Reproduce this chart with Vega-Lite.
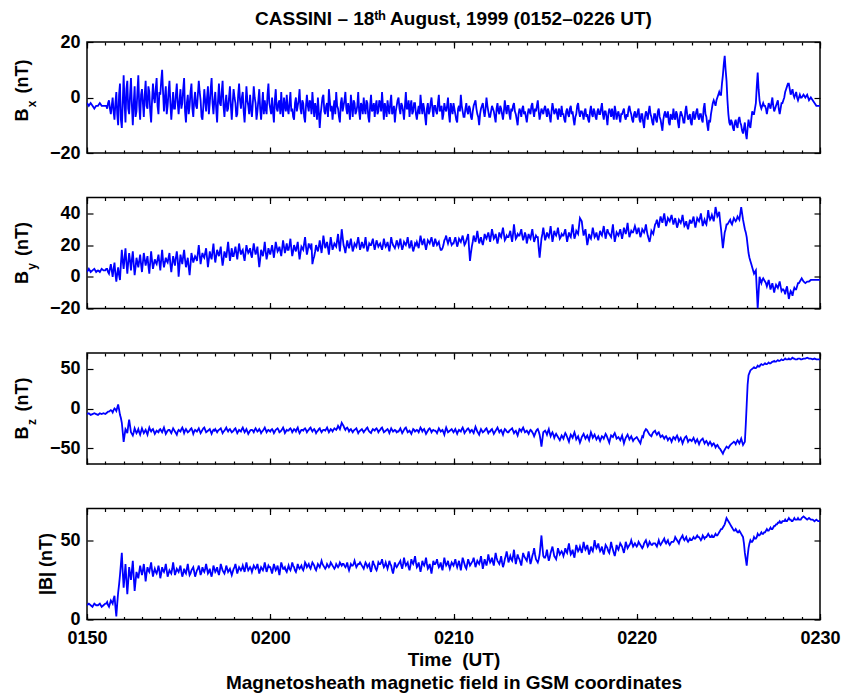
{
"$schema": "https://vega.github.io/schema/vega-lite/v6.json",
"background": "white",
"padding": {"left": 12, "top": 9, "right": 5, "bottom": 5},
"title": {"text": "CASSINI – 18ᵗʰ August, 1999 (0152–0226 UT)", "font": "Liberation Sans", "fontSize": 19, "fontWeight": "bold", "color": "black", "anchor": "middle", "frame": "group", "baseline": "alphabetic", "offset": -11.5},
"bounds": "flush",
"spacing": 44.5,
"datasets": {"mag": [
{"t":0,"bx":-2,"by":3,"bz":-7,"bt":9},{"t":0.1,"bx":-3,"by":5,"bz":-6,"bt":10},{"t":0.2,"bx":-2,"by":3,"bz":-8,"bt":9},{"t":0.3,"bx":-3,"by":4,"bz":-7,"bt":8},{"t":0.4,"bx":-4,"by":5,"bz":-6,"bt":10},{"t":0.5,"bx":-3,"by":3,"bz":-7,"bt":9},{"t":0.6,"bx":-3,"by":4,"bz":-8,"bt":9},{"t":0.7,"bx":-2,"by":3,"bz":-6,"bt":10},{"t":0.8,"bx":-3,"by":5,"bz":-7,"bt":8},{"t":0.9,"bx":-3,"by":4,"bz":-6,"bt":9},
{"t":1,"bx":-3,"by":4,"bz":-7,"bt":10},{"t":1.1,"bx":-4,"by":5,"bz":-5,"bt":11},{"t":1.2,"bx":-1,"by":2,"bz":-4,"bt":8},{"t":1.3,"bx":-6,"by":8,"bz":-2,"bt":12},{"t":1.4,"bx":0,"by":0,"bz":-5,"bt":10},{"t":1.5,"bx":-8,"by":9,"bz":0,"bt":15},{"t":1.6,"bx":2,"by":-3,"bz":-3,"bt":2},{"t":1.7,"bx":-10,"by":6,"bz":5,"bt":17},{"t":1.8,"bx":5,"by":-2,"bz":-8,"bt":28},{"t":1.9,"bx":-11,"by":17,"bz":-18,"bt":42},
{"t":2,"bx":8,"by":5,"bz":-42,"bt":20},{"t":2.1,"bx":-9,"by":18,"bz":-26,"bt":35},{"t":2.2,"bx":6,"by":2,"bz":-31,"bt":16},{"t":2.3,"bx":-6,"by":15,"bz":-14,"bt":33},{"t":2.4,"bx":7,"by":4,"bz":-30,"bt":25},{"t":2.5,"bx":-10,"by":16,"bz":-34,"bt":37},{"t":2.6,"bx":4,"by":1,"bz":-25,"bt":18},{"t":2.7,"bx":-5,"by":12,"bz":-31,"bt":30},{"t":2.8,"bx":8,"by":6,"bz":-26,"bt":26},{"t":2.9,"bx":-8,"by":14,"bz":-33,"bt":34},
{"t":3,"bx":3,"by":3,"bz":-25,"bt":28},{"t":3.1,"bx":-7,"by":15,"bz":-31,"bt":35},{"t":3.2,"bx":6,"by":7,"bz":-27,"bt":24},{"t":3.3,"bx":-4,"by":13,"bz":-33,"bt":33},{"t":3.4,"bx":2,"by":2,"bz":-24,"bt":30},{"t":3.5,"bx":-9,"by":16,"bz":-29,"bt":36},{"t":3.6,"bx":5,"by":5,"bz":-26,"bt":27},{"t":3.7,"bx":-2,"by":11,"bz":-32,"bt":32},{"t":3.8,"bx":7,"by":8,"bz":-28,"bt":29},{"t":3.9,"bx":-6,"by":14,"bz":-30,"bt":34},
{"t":4,"bx":1,"by":4,"bz":-26,"bt":26},{"t":4.1,"bx":10,"by":17,"bz":-30,"bt":33},{"t":4.2,"bx":-5,"by":6,"bz":-24,"bt":30},{"t":4.3,"bx":4,"by":12,"bz":-32,"bt":35},{"t":4.4,"bx":-3,"by":9,"bz":-28,"bt":27},{"t":4.5,"bx":6,"by":15,"bz":-27,"bt":31},{"t":4.6,"bx":-8,"by":3,"bz":-31,"bt":29},{"t":4.7,"bx":2,"by":13,"bz":-25,"bt":36},{"t":4.8,"bx":-4,"by":7,"bz":-29,"bt":28},{"t":4.9,"bx":5,"by":16,"bz":-33,"bt":32},
{"t":5,"bx":-6,"by":0,"bz":-27,"bt":30},{"t":5.1,"bx":3,"by":14,"bz":-29,"bt":34},{"t":5.2,"bx":-2,"by":8,"bz":-24,"bt":27},{"t":5.3,"bx":7,"by":17,"bz":-31,"bt":32},{"t":5.4,"bx":-9,"by":6,"bz":-26,"bt":29},{"t":5.5,"bx":1,"by":12,"bz":-30,"bt":35},{"t":5.6,"bx":-3,"by":1,"bz":-28,"bt":28},{"t":5.7,"bx":5,"by":15,"bz":-25,"bt":31},{"t":5.8,"bx":-7,"by":9,"bz":-32,"bt":33},{"t":5.9,"bx":2,"by":13,"bz":-27,"bt":27},
{"t":6,"bx":-4,"by":10,"bz":-29,"bt":31},{"t":6.1,"bx":6,"by":20,"bz":-25,"bt":34},{"t":6.2,"bx":-1,"by":8,"bz":-31,"bt":28},{"t":6.3,"bx":-8,"by":15,"bz":-27,"bt":33},{"t":6.4,"bx":3,"by":12,"bz":-24,"bt":30},{"t":6.5,"bx":-5,"by":18,"bz":-30,"bt":35},{"t":6.6,"bx":4,"by":6,"bz":-28,"bt":29},{"t":6.7,"bx":-2,"by":16,"bz":-26,"bt":32},{"t":6.8,"bx":7,"by":11,"bz":-32,"bt":27},{"t":6.9,"bx":-6,"by":21,"bz":-27,"bt":34},
{"t":7,"bx":2,"by":9,"bz":-26,"bt":30},{"t":7.1,"bx":-9,"by":17,"bz":-30,"bt":33},{"t":7.2,"bx":5,"by":13,"bz":-27,"bt":28},{"t":7.3,"bx":-3,"by":19,"bz":-25,"bt":35},{"t":7.4,"bx":6,"by":7,"bz":-31,"bt":31},{"t":7.5,"bx":-7,"by":16,"bz":-28,"bt":29},{"t":7.6,"bx":1,"by":12,"bz":-24,"bt":34},{"t":7.7,"bx":-4,"by":22,"bz":-29,"bt":30},{"t":7.8,"bx":4,"by":10,"bz":-26,"bt":32},{"t":7.9,"bx":-8,"by":18,"bz":-30,"bt":28},
{"t":8,"bx":3,"by":13,"bz":-28,"bt":32},{"t":8.1,"bx":-2,"by":19,"bz":-25,"bt":35},{"t":8.2,"bx":-6,"by":11,"bz":-31,"bt":29},{"t":8.3,"bx":5,"by":21,"bz":-27,"bt":33},{"t":8.4,"bx":-4,"by":14,"bz":-29,"bt":31},{"t":8.5,"bx":2,"by":17,"bz":-24,"bt":34},{"t":8.6,"bx":-9,"by":10,"bz":-30,"bt":30},{"t":8.7,"bx":4,"by":20,"bz":-26,"bt":36},{"t":8.8,"bx":-3,"by":15,"bz":-32,"bt":31},{"t":8.9,"bx":1,"by":18,"bz":-28,"bt":33},
{"t":9,"bx":-7,"by":12,"bz":-27,"bt":30},{"t":9.1,"bx":4,"by":21,"bz":-30,"bt":34},{"t":9.2,"bx":-2,"by":14,"bz":-25,"bt":32},{"t":9.3,"bx":-5,"by":19,"bz":-29,"bt":35},{"t":9.4,"bx":3,"by":6,"bz":-26,"bt":29},{"t":9.5,"bx":-8,"by":17,"bz":-31,"bt":33},{"t":9.6,"bx":2,"by":13,"bz":-28,"bt":31},{"t":9.7,"bx":-1,"by":22,"bz":-24,"bt":36},{"t":9.8,"bx":-6,"by":11,"bz":-30,"bt":30},{"t":9.9,"bx":5,"by":18,"bz":-27,"bt":34},
{"t":10,"bx":-4,"by":14,"bz":-29,"bt":33},{"t":10.1,"bx":0,"by":20,"bz":-26,"bt":29},{"t":10.2,"bx":-9,"by":12,"bz":-31,"bt":35},{"t":10.3,"bx":3,"by":22,"bz":-27,"bt":31},{"t":10.4,"bx":-5,"by":16,"bz":-25,"bt":34},{"t":10.5,"bx":-1,"by":19,"bz":-30,"bt":28},{"t":10.6,"bx":2,"by":13,"bz":-28,"bt":36},{"t":10.7,"bx":-7,"by":23,"bz":-24,"bt":32},{"t":10.8,"bx":-3,"by":15,"bz":-31,"bt":33},{"t":10.9,"bx":1,"by":21,"bz":-27,"bt":30},
{"t":11,"bx":-6,"by":17,"bz":-28,"bt":34},{"t":11.1,"bx":2,"by":24,"bz":-25,"bt":31},{"t":11.2,"bx":-4,"by":13,"bz":-30,"bt":36},{"t":11.3,"bx":-8,"by":20,"bz":-26,"bt":33},{"t":11.4,"bx":0,"by":16,"bz":-29,"bt":30},{"t":11.5,"bx":-3,"by":22,"bz":-24,"bt":35},{"t":11.6,"bx":3,"by":11,"bz":-31,"bt":32},{"t":11.7,"bx":-6,"by":19,"bz":-27,"bt":34},{"t":11.8,"bx":-2,"by":17,"bz":-28,"bt":31},{"t":11.9,"bx":-9,"by":25,"bz":-25,"bt":36},
{"t":12,"bx":1,"by":14,"bz":-30,"bt":33},{"t":12.1,"bx":-5,"by":21,"bz":-27,"bt":35},{"t":12.2,"bx":-2,"by":18,"bz":-24,"bt":32},{"t":12.3,"bx":2,"by":8,"bz":-29,"bt":36},{"t":12.4,"bx":-7,"by":13,"bz":-26,"bt":34},{"t":12.5,"bx":-4,"by":20,"bz":-31,"bt":31},{"t":12.6,"bx":0,"by":16,"bz":-28,"bt":35},{"t":12.7,"bx":-11,"by":23,"bz":-25,"bt":33},{"t":12.8,"bx":-3,"by":15,"bz":-30,"bt":37},{"t":12.9,"bx":1,"by":26,"bz":-27,"bt":34},
{"t":13,"bx":-6,"by":18,"bz":-28,"bt":32},{"t":13.1,"bx":-2,"by":22,"bz":-24,"bt":35},{"t":13.2,"bx":3,"by":14,"bz":-30,"bt":33},{"t":13.3,"bx":-5,"by":25,"bz":-26,"bt":36},{"t":13.4,"bx":-8,"by":17,"bz":-29,"bt":34},{"t":13.5,"bx":-1,"by":21,"bz":-25,"bt":32},{"t":13.6,"bx":2,"by":19,"bz":-27,"bt":35},{"t":13.7,"bx":-4,"by":27,"bz":-22,"bt":33},{"t":13.8,"bx":-9,"by":16,"bz":-26,"bt":36},{"t":13.9,"bx":0,"by":30,"bz":-18,"bt":34},
{"t":14,"bx":-3,"by":20,"bz":-22,"bt":35},{"t":14.1,"bx":2,"by":15,"bz":-27,"bt":33},{"t":14.2,"bx":-6,"by":23,"bz":-24,"bt":36},{"t":14.3,"bx":-4,"by":18,"bz":-29,"bt":31},{"t":14.4,"bx":1,"by":24,"bz":-26,"bt":35},{"t":14.5,"bx":-7,"by":16,"bz":-30,"bt":34},{"t":14.6,"bx":-2,"by":21,"bz":-27,"bt":37},{"t":14.7,"bx":-5,"by":19,"bz":-25,"bt":33},{"t":14.8,"bx":2,"by":25,"bz":-31,"bt":35},{"t":14.9,"bx":-8,"by":17,"bz":-28,"bt":36},
{"t":15,"bx":-3,"by":22,"bz":-26,"bt":34},{"t":15.1,"bx":0,"by":18,"bz":-30,"bt":32},{"t":15.2,"bx":-6,"by":25,"bz":-27,"bt":36},{"t":15.3,"bx":-2,"by":16,"bz":-24,"bt":33},{"t":15.4,"bx":-9,"by":21,"bz":-29,"bt":35},{"t":15.5,"bx":1,"by":20,"bz":-31,"bt":30},{"t":15.6,"bx":-4,"by":24,"bz":-26,"bt":37},{"t":15.7,"bx":-7,"by":17,"bz":-28,"bt":34},{"t":15.8,"bx":-1,"by":23,"bz":-25,"bt":31},{"t":15.9,"bx":-5,"by":19,"bz":-30,"bt":36},
{"t":16,"bx":-2,"by":21,"bz":-27,"bt":35},{"t":16.1,"bx":2,"by":17,"bz":-24,"bt":38},{"t":16.2,"bx":-8,"by":24,"bz":-30,"bt":33},{"t":16.3,"bx":-4,"by":19,"bz":-28,"bt":36},{"t":16.4,"bx":-1,"by":22,"bz":-26,"bt":32},{"t":16.5,"bx":-6,"by":16,"bz":-31,"bt":37},{"t":16.6,"bx":1,"by":25,"bz":-25,"bt":34},{"t":16.7,"bx":-5,"by":20,"bz":-29,"bt":29},{"t":16.8,"bx":-9,"by":18,"bz":-27,"bt":36},{"t":16.9,"bx":-3,"by":23,"bz":-30,"bt":33},
{"t":17,"bx":0,"by":19,"bz":-29,"bt":35},{"t":17.1,"bx":-6,"by":24,"bz":-25,"bt":37},{"t":17.2,"bx":-3,"by":17,"bz":-31,"bt":32},{"t":17.3,"bx":-8,"by":22,"bz":-27,"bt":39},{"t":17.4,"bx":2,"by":20,"bz":-24,"bt":34},{"t":17.5,"bx":-4,"by":25,"bz":-30,"bt":36},{"t":17.6,"bx":-7,"by":18,"bz":-28,"bt":31},{"t":17.7,"bx":-1,"by":23,"bz":-32,"bt":38},{"t":17.8,"bx":-5,"by":16,"bz":-26,"bt":35},{"t":17.9,"bx":-2,"by":21,"bz":-29,"bt":40},
{"t":18,"bx":-8,"by":22,"bz":-27,"bt":33},{"t":18.1,"bx":-3,"by":18,"bz":-30,"bt":36},{"t":18.2,"bx":1,"by":26,"bz":-24,"bt":30},{"t":18.3,"bx":-6,"by":20,"bz":-29,"bt":37},{"t":18.4,"bx":-4,"by":24,"bz":-26,"bt":34},{"t":18.5,"bx":-10,"by":17,"bz":-32,"bt":39},{"t":18.6,"bx":-2,"by":23,"bz":-28,"bt":32},{"t":18.7,"bx":-5,"by":21,"bz":-25,"bt":35},{"t":18.8,"bx":0,"by":25,"bz":-30,"bt":29},{"t":18.9,"bx":-7,"by":19,"bz":-27,"bt":37},
{"t":19,"bx":-3,"by":24,"bz":-28,"bt":35},{"t":19.1,"bx":-6,"by":20,"bz":-31,"bt":38},{"t":19.2,"bx":1,"by":22,"bz":-25,"bt":33},{"t":19.3,"bx":-4,"by":17,"bz":-29,"bt":36},{"t":19.4,"bx":-8,"by":18,"bz":-27,"bt":31},{"t":19.5,"bx":-2,"by":23,"bz":-33,"bt":39},{"t":19.6,"bx":-5,"by":26,"bz":-24,"bt":34},{"t":19.7,"bx":0,"by":21,"bz":-30,"bt":37},{"t":19.8,"bx":-9,"by":25,"bz":-28,"bt":32},{"t":19.9,"bx":-4,"by":20,"bz":-26,"bt":36},
{"t":20,"bx":-2,"by":21,"bz":-30,"bt":34},{"t":20.1,"bx":-6,"by":25,"bz":-26,"bt":38},{"t":20.2,"bx":-9,"by":19,"bz":-32,"bt":33},{"t":20.3,"bx":-3,"by":24,"bz":-27,"bt":37},{"t":20.4,"bx":1,"by":22,"bz":-29,"bt":31},{"t":20.5,"bx":-5,"by":26,"bz":-24,"bt":39},{"t":20.6,"bx":-7,"by":20,"bz":-31,"bt":35},{"t":20.7,"bx":-2,"by":23,"bz":-28,"bt":32},{"t":20.8,"bx":-6,"by":27,"bz":-25,"bt":38},{"t":20.9,"bx":-4,"by":10,"bz":-30,"bt":34},
{"t":21,"bx":-8,"by":19,"bz":-27,"bt":36},{"t":21.1,"bx":-3,"by":26,"bz":-31,"bt":39},{"t":21.2,"bx":-1,"by":22,"bz":-23,"bt":33},{"t":21.3,"bx":-6,"by":29,"bz":-29,"bt":37},{"t":21.4,"bx":-10,"by":21,"bz":-33,"bt":35},{"t":21.5,"bx":-4,"by":25,"bz":-26,"bt":40},{"t":21.6,"bx":-2,"by":20,"bz":-30,"bt":32},{"t":21.7,"bx":-7,"by":27,"bz":-28,"bt":38},{"t":21.8,"bx":0,"by":24,"bz":-25,"bt":34},{"t":21.9,"bx":-5,"by":28,"bz":-31,"bt":41},
{"t":22,"bx":-7,"by":22,"bz":-29,"bt":36},{"t":22.1,"bx":-3,"by":30,"bz":-26,"bt":39},{"t":22.2,"bx":-5,"by":24,"bz":-32,"bt":34},{"t":22.3,"bx":-9,"by":27,"bz":-28,"bt":42},{"t":22.4,"bx":-2,"by":21,"bz":-24,"bt":37},{"t":22.5,"bx":-6,"by":28,"bz":-30,"bt":35},{"t":22.6,"bx":-4,"by":25,"bz":-27,"bt":40},{"t":22.7,"bx":-8,"by":31,"bz":-33,"bt":33},{"t":22.8,"bx":-1,"by":23,"bz":-26,"bt":38},{"t":22.9,"bx":-6,"by":26,"bz":-29,"bt":43},
{"t":23,"bx":-3,"by":25,"bz":-30,"bt":36},{"t":23.1,"bx":-8,"by":29,"bz":-27,"bt":40},{"t":23.2,"bx":-5,"by":22,"bz":-25,"bt":37},{"t":23.3,"bx":-2,"by":33,"bz":-31,"bt":44},{"t":23.4,"bx":-6,"by":24,"bz":-28,"bt":35},{"t":23.5,"bx":-10,"by":27,"bz":-34,"bt":41},{"t":23.6,"bx":-4,"by":26,"bz":-26,"bt":38},{"t":23.7,"bx":-7,"by":30,"bz":-29,"bt":34},{"t":23.8,"bx":-3,"by":23,"bz":-24,"bt":42},{"t":23.9,"bx":-5,"by":28,"bz":-30,"bt":39},
{"t":24,"bx":-9,"by":21,"bz":-28,"bt":37},{"t":24.1,"bx":-4,"by":27,"bz":-32,"bt":43},{"t":24.2,"bx":-6,"by":24,"bz":-27,"bt":35},{"t":24.3,"bx":-2,"by":30,"bz":-30,"bt":40},{"t":24.4,"bx":-7,"by":22,"bz":-35,"bt":45},{"t":24.5,"bx":-5,"by":26,"bz":-29,"bt":38},{"t":24.6,"bx":-1,"by":25,"bz":-26,"bt":36},{"t":24.7,"bx":-8,"by":12,"bz":-33,"bt":41},{"t":24.8,"bx":-4,"by":24,"bz":-48,"bt":53},{"t":24.9,"bx":-6,"by":31,"bz":-30,"bt":40},
{"t":25,"bx":-3,"by":23,"bz":-28,"bt":39},{"t":25.1,"bx":-7,"by":28,"bz":-33,"bt":44},{"t":25.2,"bx":-5,"by":25,"bz":-26,"bt":37},{"t":25.3,"bx":-9,"by":32,"bz":-35,"bt":42},{"t":25.4,"bx":-2,"by":22,"bz":-30,"bt":46},{"t":25.5,"bx":-6,"by":29,"bz":-37,"bt":40},{"t":25.6,"bx":-4,"by":26,"bz":-32,"bt":38},{"t":25.7,"bx":-8,"by":31,"bz":-36,"bt":45},{"t":25.8,"bx":-5,"by":24,"bz":-40,"bt":41},{"t":25.9,"bx":-3,"by":27,"bz":-34,"bt":43},
{"t":26,"bx":-6,"by":26,"bz":-38,"bt":40},{"t":26.1,"bx":-9,"by":30,"bz":-31,"bt":45},{"t":26.2,"bx":-4,"by":22,"bz":-36,"bt":42},{"t":26.3,"bx":-7,"by":28,"bz":-42,"bt":48},{"t":26.4,"bx":-3,"by":25,"bz":-33,"bt":41},{"t":26.5,"bx":-5,"by":33,"bz":-37,"bt":44},{"t":26.6,"bx":-10,"by":24,"bz":-30,"bt":39},{"t":26.7,"bx":-6,"by":29,"bz":-39,"bt":47},{"t":26.8,"bx":-2,"by":27,"bz":-35,"bt":43},{"t":26.9,"bx":-7,"by":37,"bz":-43,"bt":46},
{"t":27,"bx":-5,"by":35,"bz":-36,"bt":42},{"t":27.1,"bx":-8,"by":26,"bz":-32,"bt":49},{"t":27.2,"bx":-4,"by":30,"bz":-38,"bt":44},{"t":27.3,"bx":-6,"by":20,"bz":-34,"bt":47},{"t":27.4,"bx":-9,"by":27,"bz":-40,"bt":41},{"t":27.5,"bx":-3,"by":24,"bz":-30,"bt":46},{"t":27.6,"bx":-7,"by":31,"bz":-37,"bt":43},{"t":27.7,"bx":-5,"by":25,"bz":-33,"bt":50},{"t":27.8,"bx":-8,"by":28,"bz":-39,"bt":45},{"t":27.9,"bx":-4,"by":23,"bz":-35,"bt":48},
{"t":28,"bx":-6,"by":29,"bz":-41,"bt":43},{"t":28.1,"bx":-2,"by":26,"bz":-35,"bt":46},{"t":28.2,"bx":-8,"by":32,"bz":-38,"bt":41},{"t":28.3,"bx":-5,"by":24,"bz":-32,"bt":47},{"t":28.4,"bx":-10,"by":30,"bz":-37,"bt":45},{"t":28.5,"bx":-4,"by":27,"bz":-43,"bt":42},{"t":28.6,"bx":-7,"by":25,"bz":-34,"bt":49},{"t":28.7,"bx":-6,"by":33,"bz":-36,"bt":44},{"t":28.8,"bx":-3,"by":22,"bz":-31,"bt":40},{"t":28.9,"bx":-8,"by":28,"bz":-38,"bt":47},
{"t":29,"bx":-5,"by":26,"bz":-36,"bt":44},{"t":29.1,"bx":-9,"by":30,"bz":-40,"bt":48},{"t":29.2,"bx":-6,"by":24,"bz":-34,"bt":46},{"t":29.3,"bx":-4,"by":31,"bz":-44,"bt":42},{"t":29.4,"bx":-8,"by":27,"bz":-37,"bt":49},{"t":29.5,"bx":-7,"by":34,"bz":-33,"bt":45},{"t":29.6,"bx":-3,"by":25,"bz":-39,"bt":47},{"t":29.7,"bx":-6,"by":29,"bz":-35,"bt":50},{"t":29.8,"bx":-9,"by":28,"bz":-41,"bt":46},{"t":29.9,"bx":-5,"by":32,"bz":-38,"bt":48},
{"t":30,"bx":-7,"by":27,"bz":-36,"bt":46},{"t":30.1,"bx":-4,"by":31,"bz":-40,"bt":49},{"t":30.2,"bx":-9,"by":25,"bz":-44,"bt":47},{"t":30.3,"bx":-6,"by":30,"bz":-35,"bt":45},{"t":30.4,"bx":-11,"by":28,"bz":-30,"bt":48},{"t":30.5,"bx":-5,"by":33,"bz":-26,"bt":50},{"t":30.6,"bx":-8,"by":26,"bz":-29,"bt":46},{"t":30.7,"bx":-3,"by":22,"bz":-33,"bt":49},{"t":30.8,"bx":-7,"by":29,"bz":-35,"bt":47},{"t":30.9,"bx":-10,"by":27,"bz":-30,"bt":48},
{"t":31,"bx":-6,"by":33,"bz":-28,"bt":48},{"t":31.1,"bx":-9,"by":36,"bz":-33,"bt":46},{"t":31.2,"bx":-4,"by":31,"bz":-30,"bt":50},{"t":31.3,"bx":-8,"by":38,"bz":-36,"bt":47},{"t":31.4,"bx":-12,"by":34,"bz":-34,"bt":49},{"t":31.5,"bx":-6,"by":40,"bz":-38,"bt":51},{"t":31.6,"bx":-7,"by":32,"bz":-35,"bt":48},{"t":31.7,"bx":-5,"by":37,"bz":-40,"bt":50},{"t":31.8,"bx":-10,"by":35,"bz":-37,"bt":47},{"t":31.9,"bx":-7,"by":39,"bz":-42,"bt":49},
{"t":32,"bx":-4,"by":33,"bz":-36,"bt":49},{"t":32.1,"bx":-8,"by":37,"bz":-39,"bt":52},{"t":32.2,"bx":-6,"by":31,"bz":-34,"bt":50},{"t":32.3,"bx":-11,"by":36,"bz":-41,"bt":48},{"t":32.4,"bx":-5,"by":34,"bz":-37,"bt":51},{"t":32.5,"bx":-7,"by":39,"bz":-44,"bt":53},{"t":32.6,"bx":-9,"by":32,"bz":-38,"bt":50},{"t":32.7,"bx":-3,"by":35,"bz":-35,"bt":52},{"t":32.8,"bx":-8,"by":30,"bz":-42,"bt":49},{"t":32.9,"bx":-6,"by":36,"bz":-39,"bt":51},
{"t":33,"bx":-10,"by":34,"bz":-41,"bt":50},{"t":33.1,"bx":-5,"by":38,"bz":-37,"bt":52},{"t":33.2,"bx":-7,"by":31,"bz":-43,"bt":51},{"t":33.3,"bx":-4,"by":37,"bz":-39,"bt":53},{"t":33.4,"bx":-8,"by":35,"bz":-45,"bt":52},{"t":33.5,"bx":-6,"by":40,"bz":-40,"bt":50},{"t":33.6,"bx":-9,"by":32,"bz":-38,"bt":53},{"t":33.7,"bx":-2,"by":36,"bz":-44,"bt":51},{"t":33.8,"bx":-7,"by":33,"bz":-41,"bt":52},{"t":33.9,"bx":-12,"by":42,"bz":-46,"bt":54},
{"t":34,"bx":-9,"by":36,"bz":-42,"bt":52},{"t":34.1,"bx":-4,"by":39,"bz":-47,"bt":53},{"t":34.2,"bx":-1,"by":35,"bz":-44,"bt":52},{"t":34.3,"bx":-3,"by":44,"bz":-49,"bt":54},{"t":34.4,"bx":0,"by":38,"bz":-46,"bt":53},{"t":34.5,"bx":2,"by":41,"bz":-50,"bt":55},{"t":34.6,"bx":1,"by":30,"bz":-53,"bt":57},{"t":34.7,"bx":8,"by":18,"bz":-57,"bt":58},{"t":34.8,"bx":15,"by":28,"bz":-52,"bt":60},{"t":34.9,"bx":6,"by":33,"bz":-48,"bt":64},
{"t":35,"bx":-6,"by":34,"bz":-50,"bt":62},{"t":35.1,"bx":-10,"by":36,"bz":-46,"bt":60},{"t":35.2,"bx":-9,"by":33,"bz":-44,"bt":58},{"t":35.3,"bx":-12,"by":37,"bz":-42,"bt":56},{"t":35.4,"bx":-8,"by":35,"bz":-45,"bt":57},{"t":35.5,"bx":-11,"by":38,"bz":-40,"bt":55},{"t":35.6,"bx":-7,"by":36,"bz":-44,"bt":56},{"t":35.7,"bx":-10,"by":44,"bz":-38,"bt":54},{"t":35.8,"bx":-13,"by":36,"bz":-46,"bt":52},{"t":35.9,"bx":-9,"by":30,"bz":-42,"bt":42},
{"t":36,"bx":-15,"by":25,"bz":5,"bt":34},{"t":36.1,"bx":-8,"by":15,"bz":42,"bt":45},{"t":36.2,"bx":-11,"by":10,"bz":48,"bt":50},{"t":36.3,"bx":-5,"by":6,"bz":50,"bt":49},{"t":36.4,"bx":-6,"by":2,"bz":52,"bt":52},{"t":36.5,"bx":-2,"by":4,"bz":51,"bt":51},{"t":36.6,"bx":9,"by":-20,"bz":54,"bt":54},{"t":36.7,"bx":-1,"by":0,"bz":53,"bt":53},{"t":36.8,"bx":-4,"by":-4,"bz":56,"bt":55},{"t":36.9,"bx":-2,"by":-1,"bz":55,"bt":54},
{"t":37,"bx":-3,"by":-3,"bz":57,"bt":55},{"t":37.1,"bx":-6,"by":-6,"bz":56,"bt":57},{"t":37.2,"bx":-2,"by":-2,"bz":58,"bt":56},{"t":37.3,"bx":-4,"by":-8,"bz":57,"bt":58},{"t":37.4,"bx":0,"by":-4,"bz":59,"bt":57},{"t":37.5,"bx":-5,"by":-10,"bz":60,"bt":59},{"t":37.6,"bx":-3,"by":-5,"bz":59,"bt":60},{"t":37.7,"bx":-1,"by":-7,"bz":61,"bt":61},{"t":37.8,"bx":-6,"by":-3,"bz":60,"bt":62},{"t":37.9,"bx":-2,"by":-9,"bz":62,"bt":61},
{"t":38,"bx":-1,"by":-8,"bz":61,"bt":62},{"t":38.1,"bx":2,"by":-11,"bz":63,"bt":63},{"t":38.2,"bx":4,"by":-6,"bz":62,"bt":62},{"t":38.3,"bx":5,"by":-14,"bz":63,"bt":64},{"t":38.4,"bx":1,"by":-9,"bz":62,"bt":63},{"t":38.5,"bx":3,"by":-12,"bz":64,"bt":62},{"t":38.6,"bx":0,"by":-7,"bz":63,"bt":64},{"t":38.7,"bx":2,"by":-8,"bz":62,"bt":63},{"t":38.8,"bx":-1,"by":-4,"bz":63,"bt":64},{"t":38.9,"bx":1,"by":-3,"bz":63,"bt":63},
{"t":39,"bx":0,"by":-1,"bz":62,"bt":64},{"t":39.1,"bx":1,"by":-3,"bz":63,"bt":65},{"t":39.2,"bx":0,"by":-4,"bz":63,"bt":64},{"t":39.3,"bx":1,"by":-3,"bz":64,"bt":63},{"t":39.4,"bx":-1,"by":-3,"bz":63,"bt":64},{"t":39.5,"bx":0,"by":-2,"bz":63,"bt":63},{"t":39.6,"bx":-1,"by":-2,"bz":62,"bt":63},{"t":39.7,"bx":-2,"by":-2,"bz":63,"bt":62},{"t":39.8,"bx":-3,"by":-2,"bz":62,"bt":63},{"t":39.9,"bx":-3,"by":-2,"bz":62,"bt":62},
{"t":40,"bx":-3,"by":-2,"bz":62,"bt":62},
{"t":1.05,"bx":-3,"by":5,"bz":-6,"bt":10},{"t":1.15,"bx":-2,"by":3,"bz":-4,"bt":9},{"t":1.25,"bx":-4,"by":5,"bz":-3,"bt":10},{"t":1.35,"bx":-3,"by":4,"bz":-3,"bt":11},{"t":1.45,"bx":-5,"by":5,"bz":-2,"bt":13},{"t":1.55,"bx":-2,"by":2,"bz":-1,"bt":8},{"t":1.65,"bx":-6,"by":2,"bz":1,"bt":10},{"t":1.75,"bx":1,"by":1,"bz":-1,"bt":22},{"t":1.85,"bx":-8,"by":8,"bz":-12,"bt":35},{"t":1.95,"bx":-2,"by":10,"bz":-30,"bt":30},
{"t":2.05,"bx":-2,"by":12,"bz":-34,"bt":27},{"t":2.15,"bx":3,"by":9,"bz":-28,"bt":25},{"t":2.25,"bx":-4,"by":9,"bz":-22,"bt":24},{"t":2.35,"bx":1,"by":10,"bz":-22,"bt":29},{"t":2.45,"bx":-3,"by":11,"bz":-32,"bt":31},{"t":2.55,"bx":-2,"by":8,"bz":-30,"bt":27},{"t":2.65,"bx":-7,"by":6,"bz":-28,"bt":24},{"t":2.75,"bx":2,"by":9,"bz":-29,"bt":28},{"t":2.85,"bx":-3,"by":10,"bz":-30,"bt":30},{"t":2.95,"bx":1,"by":8,"bz":-29,"bt":31},
{"t":3.05,"bx":-2,"by":9,"bz":-28,"bt":31},{"t":3.15,"bx":1,"by":11,"bz":-29,"bt":30},{"t":3.25,"bx":-3,"by":10,"bz":-30,"bt":29},{"t":3.35,"bx":4,"by":7,"bz":-28,"bt":31},{"t":3.45,"bx":-5,"by":9,"bz":-27,"bt":33},{"t":3.55,"bx":-1,"by":10,"bz":-27,"bt":31},{"t":3.65,"bx":0,"by":8,"bz":-29,"bt":30},{"t":3.75,"bx":3,"by":9,"bz":-30,"bt":30},{"t":3.85,"bx":-3,"by":11,"bz":-29,"bt":31},{"t":3.95,"bx":2,"by":9,"bz":-27,"bt":31},
{"t":4.05,"bx":6,"by":11,"bz":-28,"bt":29},{"t":4.15,"bx":2,"by":10,"bz":-27,"bt":31},{"t":4.25,"bx":0,"by":9,"bz":-28,"bt":32},{"t":4.35,"bx":-6,"by":10,"bz":-30,"bt":31},{"t":4.45,"bx":2,"by":12,"bz":-27,"bt":29},{"t":4.55,"bx":-2,"by":8,"bz":-29,"bt":30},{"t":4.65,"bx":-3,"by":8,"bz":-28,"bt":32},{"t":4.75,"bx":-4,"by":10,"bz":-27,"bt":32},{"t":4.85,"bx":1,"by":12,"bz":-31,"bt":30},{"t":4.95,"bx":-2,"by":11,"bz":-29,"bt":31},
{"t":5.05,"bx":-1,"by":7,"bz":-28,"bt":32},{"t":5.15,"bx":-4,"by":11,"bz":-26,"bt":30},{"t":5.25,"bx":3,"by":13,"bz":-27,"bt":29},{"t":5.35,"bx":-5,"by":11,"bz":-28,"bt":30},{"t":5.45,"bx":-2,"by":9,"bz":-28,"bt":32},{"t":5.55,"bx":-6,"by":6,"bz":-29,"bt":31},{"t":5.65,"bx":2,"by":8,"bz":-26,"bt":29},{"t":5.75,"bx":-4,"by":12,"bz":-28,"bt":32},{"t":5.85,"bx":-1,"by":11,"bz":-29,"bt":30},{"t":5.95,"bx":-3,"by":12,"bz":-28,"bt":29},
{"t":6.05,"bx":1,"by":15,"bz":-27,"bt":32},{"t":6.15,"bx":2,"by":14,"bz":-28,"bt":31},{"t":6.25,"bx":-7,"by":12,"bz":-29,"bt":30},{"t":6.35,"bx":-3,"by":13,"bz":-25,"bt":31},{"t":6.45,"bx":-1,"by":15,"bz":-27,"bt":32},{"t":6.55,"bx":0,"by":12,"bz":-29,"bt":32},{"t":6.65,"bx":-6,"by":11,"bz":-27,"bt":30},{"t":6.75,"bx":3,"by":13,"bz":-29,"bt":29},{"t":6.85,"bx":-2,"by":16,"bz":-29,"bt":30},{"t":6.95,"bx":-1,"by":14,"bz":-28,"bt":32},
{"t":7.05,"bx":-4,"by":13,"bz":-28,"bt":31},{"t":7.15,"bx":-1,"by":15,"bz":-28,"bt":30},{"t":7.25,"bx":-2,"by":16,"bz":-26,"bt":31},{"t":7.35,"bx":2,"by":12,"bz":-28,"bt":33},{"t":7.45,"bx":-3,"by":11,"bz":-29,"bt":30},{"t":7.55,"bx":-2,"by":14,"bz":-26,"bt":31},{"t":7.65,"bx":-5,"by":17,"bz":-27,"bt":32},{"t":7.75,"bx":0,"by":16,"bz":-27,"bt":31},{"t":7.85,"bx":-3,"by":14,"bz":-28,"bt":30},{"t":7.95,"bx":-2,"by":13,"bz":-29,"bt":30},
{"t":8.05,"bx":0,"by":16,"bz":-26,"bt":33},{"t":8.15,"bx":-7,"by":15,"bz":-28,"bt":32},{"t":8.25,"bx":1,"by":16,"bz":-29,"bt":31},{"t":8.35,"bx":-1,"by":17,"bz":-28,"bt":32},{"t":8.45,"bx":0,"by":16,"bz":-26,"bt":32},{"t":8.55,"bx":-5,"by":13,"bz":-27,"bt":32},{"t":8.65,"bx":-3,"by":15,"bz":-28,"bt":33},{"t":8.75,"bx":-1,"by":17,"bz":-29,"bt":33},{"t":8.85,"bx":-6,"by":16,"bz":-30,"bt":32},{"t":8.95,"bx":-4,"by":14,"bz":-27,"bt":32},
{"t":9.05,"bx":-2,"by":17,"bz":-28,"bt":32},{"t":9.15,"bx":0,"by":17,"bz":-27,"bt":33},{"t":9.25,"bx":-8,"by":16,"bz":-27,"bt":33},{"t":9.35,"bx":-1,"by":12,"bz":-28,"bt":32},{"t":9.45,"bx":-4,"by":11,"bz":-28,"bt":31},{"t":9.55,"bx":-3,"by":15,"bz":-29,"bt":32},{"t":9.65,"bx":-6,"by":17,"bz":-26,"bt":33},{"t":9.75,"bx":-4,"by":16,"bz":-27,"bt":33},{"t":9.85,"bx":1,"by":14,"bz":-28,"bt":32},{"t":9.95,"bx":-2,"by":16,"bz":-28,"bt":33},
{"t":10.05,"bx":-6,"by":17,"bz":-27,"bt":31},{"t":10.15,"bx":-5,"by":16,"bz":-28,"bt":32},{"t":10.25,"bx":-1,"by":17,"bz":-29,"bt":33},{"t":10.35,"bx":-4,"by":19,"bz":-26,"bt":32},{"t":10.45,"bx":-2,"by":17,"bz":-27,"bt":31},{"t":10.55,"bx":-6,"by":16,"bz":-29,"bt":32},{"t":10.65,"bx":-4,"by":18,"bz":-26,"bt":34},{"t":10.75,"bx":0,"by":19,"bz":-27,"bt":32},{"t":10.85,"bx":-5,"by":18,"bz":-29,"bt":31},{"t":10.95,"bx":-4,"by":17,"bz":-28,"bt":32},
{"t":11.05,"bx":-2,"by":20,"bz":-26,"bt":32},{"t":11.15,"bx":-5,"by":18,"bz":-27,"bt":33},{"t":11.25,"bx":-7,"by":16,"bz":-28,"bt":34},{"t":11.35,"bx":-2,"by":18,"bz":-27,"bt":31},{"t":11.45,"bx":-5,"by":19,"bz":-26,"bt":32},{"t":11.55,"bx":-1,"by":16,"bz":-28,"bt":33},{"t":11.65,"bx":-4,"by":15,"bz":-29,"bt":33},{"t":11.75,"bx":-1,"by":18,"bz":-27,"bt":32},{"t":11.85,"bx":-7,"by":21,"bz":-26,"bt":33},{"t":11.95,"bx":-3,"by":19,"bz":-27,"bt":35},
{"t":12.05,"bx":-3,"by":17,"bz":-28,"bt":34},{"t":12.15,"bx":-1,"by":19,"bz":-25,"bt":33},{"t":12.25,"bx":-6,"by":21,"bz":-27,"bt":34},{"t":12.35,"bx":-3,"by":11,"bz":-27,"bt":35},{"t":12.45,"bx":-2,"by":16,"bz":-28,"bt":32},{"t":12.55,"bx":-8,"by":18,"bz":-29,"bt":33},{"t":12.65,"bx":-5,"by":19,"bz":-26,"bt":34},{"t":12.75,"bx":-6,"by":19,"bz":-28,"bt":35},{"t":12.85,"bx":0,"by":20,"bz":-28,"bt":35},{"t":12.95,"bx":-5,"by":22,"bz":-27,"bt":33},
{"t":13.05,"bx":-3,"by":20,"bz":-26,"bt":33},{"t":13.15,"bx":-7,"by":18,"bz":-27,"bt":34},{"t":13.25,"bx":-1,"by":20,"bz":-28,"bt":34},{"t":13.35,"bx":-3,"by":21,"bz":-27,"bt":35},{"t":13.45,"bx":-4,"by":19,"bz":-27,"bt":33},{"t":13.55,"bx":-6,"by":20,"bz":-26,"bt":33},{"t":13.65,"bx":-3,"by":23,"bz":-25,"bt":34},{"t":13.75,"bx":-7,"by":21,"bz":-24,"bt":34},{"t":13.85,"bx":-2,"by":23,"bz":-22,"bt":35},{"t":13.95,"bx":-5,"by":25,"bz":-20,"bt":35},
{"t":14.05,"bx":-1,"by":18,"bz":-25,"bt":34},{"t":14.15,"bx":-4,"by":19,"bz":-25,"bt":34},{"t":14.25,"bx":-2,"by":20,"bz":-26,"bt":33},{"t":14.35,"bx":-8,"by":21,"bz":-27,"bt":33},{"t":14.45,"bx":-3,"by":20,"bz":-28,"bt":34},{"t":14.55,"bx":-1,"by":18,"bz":-28,"bt":35},{"t":14.65,"bx":-6,"by":20,"bz":-26,"bt":35},{"t":14.75,"bx":-3,"by":22,"bz":-28,"bt":34},{"t":14.85,"bx":-5,"by":21,"bz":-29,"bt":35},{"t":14.95,"bx":-2,"by":19,"bz":-27,"bt":35},
{"t":15.05,"bx":-6,"by":20,"bz":-28,"bt":33},{"t":15.15,"bx":-4,"by":21,"bz":-28,"bt":34},{"t":15.25,"bx":-1,"by":20,"bz":-25,"bt":35},{"t":15.35,"bx":-7,"by":18,"bz":-27,"bt":34},{"t":15.45,"bx":-3,"by":20,"bz":-30,"bt":32},{"t":15.55,"bx":-5,"by":22,"bz":-28,"bt":33},{"t":15.65,"bx":-2,"by":20,"bz":-27,"bt":35},{"t":15.75,"bx":-3,"by":20,"bz":-26,"bt":32},{"t":15.85,"bx":-6,"by":21,"bz":-27,"bt":33},{"t":15.95,"bx":-1,"by":20,"bz":-28,"bt":35},
{"t":16.05,"bx":-5,"by":19,"bz":-25,"bt":36},{"t":16.15,"bx":-3,"by":20,"bz":-27,"bt":35},{"t":16.25,"bx":-2,"by":21,"bz":-29,"bt":34},{"t":16.35,"bx":-7,"by":20,"bz":-27,"bt":34},{"t":16.45,"bx":-4,"by":19,"bz":-28,"bt":34},{"t":16.55,"bx":-2,"by":20,"bz":-28,"bt":35},{"t":16.65,"bx":-6,"by":22,"bz":-27,"bt":31},{"t":16.75,"bx":-3,"by":19,"bz":-28,"bt":32},{"t":16.85,"bx":-5,"by":20,"bz":-28,"bt":34},{"t":16.95,"bx":-1,"by":21,"bz":-29,"bt":34},
{"t":17.05,"bx":-4,"by":21,"bz":-27,"bt":36},{"t":17.15,"bx":-2,"by":20,"bz":-28,"bt":34},{"t":17.25,"bx":-5,"by":19,"bz":-29,"bt":35},{"t":17.35,"bx":-3,"by":21,"bz":-25,"bt":36},{"t":17.45,"bx":-4,"by":22,"bz":-27,"bt":35},{"t":17.55,"bx":-1,"by":21,"bz":-29,"bt":33},{"t":17.65,"bx":-3,"by":20,"bz":-30,"bt":34},{"t":17.75,"bx":-6,"by":19,"bz":-29,"bt":36},{"t":17.85,"bx":-2,"by":18,"bz":-27,"bt":37},{"t":17.95,"bx":-6,"by":20,"bz":-28,"bt":36},
{"t":18.05,"bx":-5,"by":20,"bz":-28,"bt":34},{"t":18.15,"bx":-6,"by":22,"bz":-27,"bt":33},{"t":18.25,"bx":-3,"by":23,"bz":-26,"bt":33},{"t":18.35,"bx":-2,"by":22,"bz":-27,"bt":35},{"t":18.45,"bx":-7,"by":20,"bz":-29,"bt":36},{"t":18.55,"bx":-4,"by":20,"bz":-30,"bt":35},{"t":18.65,"bx":-6,"by":22,"bz":-26,"bt":33},{"t":18.75,"bx":-2,"by":23,"bz":-27,"bt":32},{"t":18.85,"bx":-4,"by":22,"bz":-28,"bt":33},{"t":18.95,"bx":-3,"by":21,"bz":-28,"bt":35},
{"t":19.05,"bx":-5,"by":22,"bz":-29,"bt":36},{"t":19.15,"bx":-2,"by":21,"bz":-28,"bt":35},{"t":19.25,"bx":-5,"by":19,"bz":-27,"bt":34},{"t":19.35,"bx":-3,"by":17,"bz":-28,"bt":33},{"t":19.45,"bx":-6,"by":20,"bz":-30,"bt":35},{"t":19.55,"bx":-4,"by":24,"bz":-28,"bt":36},{"t":19.65,"bx":-3,"by":23,"bz":-27,"bt":35},{"t":19.75,"bx":-6,"by":23,"bz":-29,"bt":34},{"t":19.85,"bx":-2,"by":22,"bz":-27,"bt":34},{"t":19.95,"bx":-6,"by":21,"bz":-28,"bt":35},
{"t":20.05,"bx":-4,"by":23,"bz":-28,"bt":36},{"t":20.15,"bx":-8,"by":22,"bz":-29,"bt":35},{"t":20.25,"bx":-4,"by":21,"bz":-29,"bt":35},{"t":20.35,"bx":-5,"by":23,"bz":-28,"bt":34},{"t":20.45,"bx":-3,"by":24,"bz":-26,"bt":35},{"t":20.55,"bx":-7,"by":23,"bz":-27,"bt":37},{"t":20.65,"bx":-4,"by":21,"bz":-29,"bt":33},{"t":20.75,"bx":-5,"by":25,"bz":-26,"bt":35},{"t":20.85,"bx":-3,"by":18,"bz":-27,"bt":36},{"t":20.95,"bx":-7,"by":15,"bz":-28,"bt":35},
{"t":21.05,"bx":-5,"by":22,"bz":-29,"bt":37},{"t":21.15,"bx":-2,"by":24,"bz":-27,"bt":36},{"t":21.25,"bx":-4,"by":25,"bz":-26,"bt":35},{"t":21.35,"bx":-7,"by":25,"bz":-31,"bt":36},{"t":21.45,"bx":-6,"by":23,"bz":-29,"bt":37},{"t":21.55,"bx":-3,"by":22,"bz":-28,"bt":36},{"t":21.65,"bx":-5,"by":23,"bz":-29,"bt":35},{"t":21.75,"bx":-4,"by":25,"bz":-26,"bt":36},{"t":21.85,"bx":-3,"by":26,"bz":-28,"bt":37},{"t":21.95,"bx":-7,"by":25,"bz":-29,"bt":38},
{"t":22.05,"bx":-5,"by":26,"bz":-27,"bt":37},{"t":22.15,"bx":-4,"by":27,"bz":-29,"bt":36},{"t":22.25,"bx":-7,"by":25,"bz":-30,"bt":38},{"t":22.35,"bx":-4,"by":24,"bz":-26,"bt":39},{"t":22.45,"bx":-5,"by":24,"bz":-27,"bt":36},{"t":22.55,"bx":-3,"by":26,"bz":-28,"bt":37},{"t":22.65,"bx":-6,"by":28,"bz":-30,"bt":36},{"t":22.75,"bx":-5,"by":27,"bz":-29,"bt":35},{"t":22.85,"bx":-4,"by":24,"bz":-27,"bt":40},{"t":22.95,"bx":-3,"by":25,"bz":-30,"bt":40},
{"t":23.05,"bx":-6,"by":27,"bz":-28,"bt":38},{"t":23.15,"bx":-4,"by":25,"bz":-26,"bt":38},{"t":23.25,"bx":-3,"by":27,"bz":-28,"bt":40},{"t":23.35,"bx":-5,"by":28,"bz":-29,"bt":39},{"t":23.45,"bx":-8,"by":25,"bz":-31,"bt":38},{"t":23.55,"bx":-6,"by":26,"bz":-30,"bt":39},{"t":23.65,"bx":-5,"by":28,"bz":-27,"bt":36},{"t":23.75,"bx":-4,"by":26,"bz":-26,"bt":38},{"t":23.85,"bx":-6,"by":25,"bz":-27,"bt":40},{"t":23.95,"bx":-7,"by":26,"bz":-29,"bt":38},
{"t":24.05,"bx":-6,"by":24,"bz":-30,"bt":40},{"t":24.15,"bx":-5,"by":25,"bz":-29,"bt":39},{"t":24.25,"bx":-3,"by":27,"bz":-28,"bt":37},{"t":24.35,"bx":-5,"by":26,"bz":-32,"bt":42},{"t":24.45,"bx":-4,"by":24,"bz":-32,"bt":41},{"t":24.55,"bx":-3,"by":25,"bz":-27,"bt":37},{"t":24.65,"bx":-5,"by":18,"bz":-29,"bt":38},{"t":24.75,"bx":-6,"by":18,"bz":-40,"bt":47},{"t":24.85,"bx":-5,"by":27,"bz":-39,"bt":46},{"t":24.95,"bx":-4,"by":27,"bz":-29,"bt":39},
{"t":25.05,"bx":-5,"by":25,"bz":-30,"bt":41},{"t":25.15,"bx":-4,"by":26,"bz":-29,"bt":40},{"t":25.25,"bx":-7,"by":28,"bz":-31,"bt":39},{"t":25.35,"bx":-5,"by":27,"bz":-32,"bt":44},{"t":25.45,"bx":-4,"by":25,"bz":-33,"bt":43},{"t":25.55,"bx":-5,"by":27,"bz":-34,"bt":39},{"t":25.65,"bx":-6,"by":28,"bz":-34,"bt":41},{"t":25.75,"bx":-4,"by":27,"bz":-38,"bt":43},{"t":25.85,"bx":-7,"by":25,"bz":-37,"bt":42},{"t":25.95,"bx":-6,"by":26,"bz":-36,"bt":42},
{"t":26.05,"bx":-8,"by":28,"bz":-34,"bt":42},{"t":26.15,"bx":-5,"by":26,"bz":-33,"bt":43},{"t":26.25,"bx":-6,"by":25,"bz":-39,"bt":45},{"t":26.35,"bx":-4,"by":26,"bz":-37,"bt":44},{"t":26.45,"bx":-6,"by":29,"bz":-35,"bt":42},{"t":26.55,"bx":-8,"by":28,"bz":-33,"bt":41},{"t":26.65,"bx":-7,"by":26,"bz":-34,"bt":43},{"t":26.75,"bx":-3,"by":28,"bz":-37,"bt":45},{"t":26.85,"bx":-5,"by":32,"bz":-39,"bt":44},{"t":26.95,"bx":-5,"by":36,"bz":-40,"bt":44},
{"t":27.05,"bx":-6,"by":30,"bz":-34,"bt":45},{"t":27.15,"bx":-5,"by":28,"bz":-35,"bt":46},{"t":27.25,"bx":-7,"by":25,"bz":-36,"bt":45},{"t":27.35,"bx":-8,"by":23,"bz":-37,"bt":44},{"t":27.45,"bx":-5,"by":25,"bz":-35,"bt":43},{"t":27.55,"bx":-6,"by":27,"bz":-33,"bt":44},{"t":27.65,"bx":-4,"by":28,"bz":-35,"bt":46},{"t":27.75,"bx":-7,"by":26,"bz":-36,"bt":47},{"t":27.85,"bx":-5,"by":25,"bz":-37,"bt":46},{"t":27.95,"bx":-6,"by":26,"bz":-38,"bt":45},
{"t":28.05,"bx":-4,"by":27,"bz":-38,"bt":44},{"t":28.15,"bx":-6,"by":29,"bz":-36,"bt":43},{"t":28.25,"bx":-5,"by":28,"bz":-35,"bt":44},{"t":28.35,"bx":-7,"by":27,"bz":-34,"bt":46},{"t":28.45,"bx":-6,"by":28,"bz":-40,"bt":43},{"t":28.55,"bx":-5,"by":26,"bz":-38,"bt":45},{"t":28.65,"bx":-4,"by":29,"bz":-35,"bt":46},{"t":28.75,"bx":-8,"by":27,"bz":-33,"bt":42},{"t":28.85,"bx":-5,"by":25,"bz":-34,"bt":43},{"t":28.95,"bx":-6,"by":27,"bz":-37,"bt":45},
{"t":29.05,"bx":-7,"by":28,"bz":-38,"bt":46},{"t":29.15,"bx":-6,"by":27,"bz":-37,"bt":47},{"t":29.25,"bx":-5,"by":27,"bz":-39,"bt":44},{"t":29.35,"bx":-7,"by":29,"bz":-40,"bt":45},{"t":29.45,"bx":-6,"by":30,"bz":-35,"bt":47},{"t":29.55,"bx":-4,"by":29,"bz":-36,"bt":46},{"t":29.65,"bx":-5,"by":27,"bz":-37,"bt":48},{"t":29.75,"bx":-8,"by":28,"bz":-38,"bt":48},{"t":29.85,"bx":-6,"by":30,"bz":-39,"bt":47},{"t":29.95,"bx":-7,"by":30,"bz":-37,"bt":47},
{"t":30.05,"bx":-5,"by":29,"bz":-38,"bt":47},{"t":30.15,"bx":-8,"by":28,"bz":-42,"bt":48},{"t":30.25,"bx":-6,"by":27,"bz":-39,"bt":46},{"t":30.35,"bx":-9,"by":29,"bz":-36,"bt":46},{"t":30.45,"bx":-7,"by":30,"bz":-28,"bt":49},{"t":30.55,"bx":-6,"by":29,"bz":-27,"bt":48},{"t":30.65,"bx":-5,"by":24,"bz":-31,"bt":47},{"t":30.75,"bx":-6,"by":25,"bz":-34,"bt":48},{"t":30.85,"bx":-9,"by":28,"bz":-32,"bt":47},{"t":30.95,"bx":-6,"by":30,"bz":-29,"bt":48},
{"t":31.05,"bx":-8,"by":34,"bz":-31,"bt":47},{"t":31.15,"bx":-5,"by":33,"bz":-31,"bt":48},{"t":31.25,"bx":-7,"by":35,"bz":-33,"bt":48},{"t":31.35,"bx":-10,"by":36,"bz":-35,"bt":48},{"t":31.45,"bx":-8,"by":37,"bz":-36,"bt":50},{"t":31.55,"bx":-5,"by":36,"bz":-36,"bt":49},{"t":31.65,"bx":-7,"by":34,"bz":-37,"bt":49},{"t":31.75,"bx":-9,"by":36,"bz":-38,"bt":48},{"t":31.85,"bx":-6,"by":37,"bz":-39,"bt":48},{"t":31.95,"bx":-8,"by":36,"bz":-39,"bt":49},
{"t":32.05,"bx":-7,"by":35,"bz":-37,"bt":50},{"t":32.15,"bx":-5,"by":34,"bz":-36,"bt":51},{"t":32.25,"bx":-9,"by":33,"bz":-37,"bt":49},{"t":32.35,"bx":-7,"by":35,"bz":-39,"bt":50},{"t":32.45,"bx":-6,"by":36,"bz":-40,"bt":52},{"t":32.55,"bx":-9,"by":35,"bz":-41,"bt":51},{"t":32.65,"bx":-5,"by":33,"bz":-36,"bt":51},{"t":32.75,"bx":-6,"by":32,"bz":-38,"bt":50},{"t":32.85,"bx":-7,"by":33,"bz":-40,"bt":50},{"t":32.95,"bx":-9,"by":34,"bz":-40,"bt":50},
{"t":33.05,"bx":-6,"by":36,"bz":-39,"bt":51},{"t":33.15,"bx":-8,"by":34,"bz":-40,"bt":51},{"t":33.25,"bx":-5,"by":34,"bz":-41,"bt":52},{"t":33.35,"bx":-7,"by":36,"bz":-42,"bt":52},{"t":33.45,"bx":-6,"by":37,"bz":-42,"bt":51},{"t":33.55,"bx":-8,"by":36,"bz":-39,"bt":51},{"t":33.65,"bx":-4,"by":34,"bz":-41,"bt":52},{"t":33.75,"bx":-6,"by":34,"bz":-42,"bt":52},{"t":33.85,"bx":-10,"by":37,"bz":-43,"bt":53},{"t":33.95,"bx":-8,"by":38,"bz":-44,"bt":53},
{"t":34.05,"bx":-6,"by":37,"bz":-44,"bt":52},{"t":34.15,"bx":-2,"by":37,"bz":-45,"bt":52},{"t":34.25,"bx":-2,"by":39,"bz":-46,"bt":53},{"t":34.35,"bx":-1,"by":41,"bz":-47,"bt":53},{"t":34.45,"bx":1,"by":39,"bz":-48,"bt":54},{"t":34.55,"bx":1,"by":35,"bz":-51,"bt":56},{"t":34.65,"bx":5,"by":24,"bz":-55,"bt":57},{"t":34.75,"bx":12,"by":23,"bz":-54,"bt":59},{"t":34.85,"bx":10,"by":30,"bz":-50,"bt":62},{"t":34.95,"bx":-1,"by":33,"bz":-49,"bt":63},
{"t":35.05,"bx":-9,"by":35,"bz":-48,"bt":61},{"t":35.15,"bx":-8,"by":34,"bz":-45,"bt":59},{"t":35.25,"bx":-11,"by":35,"bz":-43,"bt":57},{"t":35.35,"bx":-9,"by":36,"bz":-43,"bt":56},{"t":35.45,"bx":-10,"by":36,"bz":-42,"bt":56},{"t":35.55,"bx":-8,"by":37,"bz":-42,"bt":55},{"t":35.65,"bx":-9,"by":40,"bz":-41,"bt":55},{"t":35.75,"bx":-12,"by":40,"bz":-42,"bt":53},{"t":35.85,"bx":-11,"by":33,"bz":-44,"bt":48},{"t":35.95,"bx":-13,"by":28,"bz":-20,"bt":38},
{"t":36.05,"bx":-11,"by":20,"bz":30,"bt":40},{"t":36.15,"bx":-10,"by":12,"bz":45,"bt":48},{"t":36.25,"bx":-8,"by":8,"bz":49,"bt":49},{"t":36.35,"bx":-6,"by":4,"bz":51,"bt":50},{"t":36.45,"bx":-4,"by":3,"bz":51,"bt":51},{"t":36.55,"bx":4,"by":-8,"bz":52,"bt":52},{"t":36.65,"bx":3,"by":-10,"bz":53,"bt":53},{"t":36.75,"bx":-3,"by":-2,"bz":55,"bt":54},{"t":36.85,"bx":-3,"by":-2,"bz":55,"bt":54},{"t":36.95,"bx":-3,"by":-2,"bz":56,"bt":55},
{"t":37.05,"bx":-4,"by":-4,"bz":56,"bt":56},{"t":37.15,"bx":-4,"by":-4,"bz":57,"bt":56},{"t":37.25,"bx":-3,"by":-5,"bz":57,"bt":57},{"t":37.35,"bx":-2,"by":-6,"bz":58,"bt":57},{"t":37.45,"bx":-3,"by":-7,"bz":59,"bt":58},{"t":37.55,"bx":-4,"by":-7,"bz":59,"bt":59},{"t":37.65,"bx":-2,"by":-6,"bz":60,"bt":60},{"t":37.75,"bx":-4,"by":-5,"bz":60,"bt":61},{"t":37.85,"bx":-4,"by":-6,"bz":61,"bt":61},{"t":37.95,"bx":-2,"by":-8,"bz":61,"bt":62},
{"t":38.05,"bx":0,"by":-9,"bz":62,"bt":62},{"t":38.15,"bx":3,"by":-8,"bz":62,"bt":62},{"t":38.25,"bx":5,"by":-10,"bz":62,"bt":63},{"t":38.35,"bx":3,"by":-11,"bz":62,"bt":63},{"t":38.45,"bx":2,"by":-10,"bz":63,"bt":62},{"t":38.55,"bx":1,"by":-9,"bz":63,"bt":63},{"t":38.65,"bx":1,"by":-8,"bz":62,"bt":63},{"t":38.75,"bx":0,"by":-6,"bz":62,"bt":63},{"t":38.85,"bx":0,"by":-4,"bz":63,"bt":63},{"t":38.95,"bx":0,"by":-2,"bz":62,"bt":63}
]},
"data": {"name": "mag"},
"config": {
  "view": {"stroke": "black", "strokeWidth": 1.5},
  "font": "Liberation Sans",
  "axis": {"domain": false, "grid": false, "ticks": true, "tickColor": "black", "tickWidth": 1.2, "labelFlush": false, "labelFont": "Liberation Sans", "labelFontSize": 18, "labelFontWeight": "bold", "labelColor": "black", "titleFont": "Liberation Sans", "titleFontSize": 18, "titleFontWeight": "bold", "titleColor": "black"}
},
"vconcat": [
{
 "width": 733, "height": 111,
 "resolve": {"axis": {"x": "independent", "y": "independent"}},
 "layer": [
  {"mark": {"type": "line", "color": "#0000ff", "strokeWidth": 1.8, "clip": true},
   "encoding": {
    "x": {"field": "t", "type": "quantitative", "scale": {"domain": [0, 40], "nice": false, "zero": false}, "axis": {"orient": "bottom", "values": [0, 10, 20, 30, 40], "labels": false, "tickSize": -6, "title": null}},
    "y": {"field": "bx", "type": "quantitative", "scale": {"domain": [-20, 20], "nice": false, "zero": false}, "axis": {"orient": "left", "values": [-20, 0, 20], "tickSize": -6, "labelPadding": 13, "title": "B\u00a0\u00a0\u00a0(nT)", "titleAngle": 270, "titleAlign": "center", "titleBaseline": "alphabetic", "titleX": -60, "titleY": 48}}
   }},
  {"mark": {"type": "line", "opacity": 0},
   "encoding": {
    "x": {"field": "t", "type": "quantitative", "axis": {"orient": "top", "values": [0, 10, 20, 30, 40], "labels": false, "tickSize": -6, "title": "x", "titleFontSize": 12, "titleAngle": 270, "titleAlign": "center", "titleBaseline": "alphabetic", "titleX": -52, "titleY": 61.5}},
    "y": {"field": "bx", "type": "quantitative", "axis": {"orient": "right", "values": [-20, 0, 20], "labels": false, "tickSize": -6, "title": null}}
   }},
  {"mark": {"type": "line", "opacity": 0},
   "encoding": {
    "x": {"field": "t", "type": "quantitative", "axis": {"orient": "bottom", "values": [0,1,2,3,4,5,6,7,8,9,10,11,12,13,14,15,16,17,18,19,20,21,22,23,24,25,26,27,28,29,30,31,32,33,34,35,36,37,38,39,40], "labels": false, "tickSize": -3, "title": null}},
    "y": {"field": "bx", "type": "quantitative", "axis": null}
   }},
  {"mark": {"type": "line", "opacity": 0},
   "encoding": {
    "x": {"field": "t", "type": "quantitative", "axis": {"orient": "top", "values": [0,1,2,3,4,5,6,7,8,9,10,11,12,13,14,15,16,17,18,19,20,21,22,23,24,25,26,27,28,29,30,31,32,33,34,35,36,37,38,39,40], "labels": false, "tickSize": -3, "title": null}},
    "y": {"field": "bx", "type": "quantitative", "axis": null}
   }}
 ]
},
{
 "width": 733, "height": 111,
 "resolve": {"axis": {"x": "independent", "y": "independent"}},
 "layer": [
  {"mark": {"type": "line", "color": "#0000ff", "strokeWidth": 1.8, "clip": true},
   "encoding": {
    "x": {"field": "t", "type": "quantitative", "scale": {"domain": [0, 40], "nice": false, "zero": false}, "axis": {"orient": "bottom", "values": [0, 10, 20, 30, 40], "labels": false, "tickSize": -6, "title": null}},
    "y": {"field": "by", "type": "quantitative", "scale": {"domain": [-20, 50], "nice": false, "zero": false}, "axis": {"orient": "left", "values": [-20, 0, 20, 40], "tickSize": -6, "labelPadding": 13, "title": "B\u00a0\u00a0\u00a0(nT)", "titleAngle": 270, "titleAlign": "center", "titleBaseline": "alphabetic", "titleX": -60, "titleY": 55}}
   }},
  {"mark": {"type": "line", "opacity": 0},
   "encoding": {
    "x": {"field": "t", "type": "quantitative", "axis": {"orient": "top", "values": [0, 10, 20, 30, 40], "labels": false, "tickSize": -6, "title": "y", "titleFontSize": 12, "titleAngle": 270, "titleAlign": "center", "titleBaseline": "alphabetic", "titleX": -52, "titleY": 68.5}},
    "y": {"field": "by", "type": "quantitative", "axis": {"orient": "right", "values": [-20, 0, 20, 40], "labels": false, "tickSize": -6, "title": null}}
   }},
  {"mark": {"type": "line", "opacity": 0},
   "encoding": {
    "x": {"field": "t", "type": "quantitative", "axis": {"orient": "bottom", "values": [0,1,2,3,4,5,6,7,8,9,10,11,12,13,14,15,16,17,18,19,20,21,22,23,24,25,26,27,28,29,30,31,32,33,34,35,36,37,38,39,40], "labels": false, "tickSize": -3, "title": null}},
    "y": {"field": "by", "type": "quantitative", "axis": null}
   }},
  {"mark": {"type": "line", "opacity": 0},
   "encoding": {
    "x": {"field": "t", "type": "quantitative", "axis": {"orient": "top", "values": [0,1,2,3,4,5,6,7,8,9,10,11,12,13,14,15,16,17,18,19,20,21,22,23,24,25,26,27,28,29,30,31,32,33,34,35,36,37,38,39,40], "labels": false, "tickSize": -3, "title": null}},
    "y": {"field": "by", "type": "quantitative", "axis": null}
   }}
 ]
},
{
 "width": 733, "height": 111,
 "resolve": {"axis": {"x": "independent", "y": "independent"}},
 "layer": [
  {"mark": {"type": "line", "color": "#0000ff", "strokeWidth": 1.8, "clip": true},
   "encoding": {
    "x": {"field": "t", "type": "quantitative", "scale": {"domain": [0, 40], "nice": false, "zero": false}, "axis": {"orient": "bottom", "values": [0, 10, 20, 30, 40], "labels": false, "tickSize": -6, "title": null}},
    "y": {"field": "bz", "type": "quantitative", "scale": {"domain": [-70, 70], "nice": false, "zero": false}, "axis": {"orient": "left", "values": [-50, 0, 50], "tickSize": -6, "labelPadding": 13, "title": "B\u00a0\u00a0\u00a0(nT)", "titleAngle": 270, "titleAlign": "center", "titleBaseline": "alphabetic", "titleX": -60, "titleY": 55}}
   }},
  {"mark": {"type": "line", "opacity": 0},
   "encoding": {
    "x": {"field": "t", "type": "quantitative", "axis": {"orient": "top", "values": [0, 10, 20, 30, 40], "labels": false, "tickSize": -6, "title": "z", "titleFontSize": 12, "titleAngle": 270, "titleAlign": "center", "titleBaseline": "alphabetic", "titleX": -52, "titleY": 68.5}},
    "y": {"field": "bz", "type": "quantitative", "axis": {"orient": "right", "values": [-50, 0, 50], "labels": false, "tickSize": -6, "title": null}}
   }},
  {"mark": {"type": "line", "opacity": 0},
   "encoding": {
    "x": {"field": "t", "type": "quantitative", "axis": {"orient": "bottom", "values": [0,1,2,3,4,5,6,7,8,9,10,11,12,13,14,15,16,17,18,19,20,21,22,23,24,25,26,27,28,29,30,31,32,33,34,35,36,37,38,39,40], "labels": false, "tickSize": -3, "title": null}},
    "y": {"field": "bz", "type": "quantitative", "axis": null}
   }},
  {"mark": {"type": "line", "opacity": 0},
   "encoding": {
    "x": {"field": "t", "type": "quantitative", "axis": {"orient": "top", "values": [0,1,2,3,4,5,6,7,8,9,10,11,12,13,14,15,16,17,18,19,20,21,22,23,24,25,26,27,28,29,30,31,32,33,34,35,36,37,38,39,40], "labels": false, "tickSize": -3, "title": null}},
    "y": {"field": "bz", "type": "quantitative", "axis": null}
   }}
 ]
},
{
 "width": 733, "height": 111,
 "resolve": {"axis": {"x": "independent", "y": "independent"}},
 "layer": [
  {"mark": {"type": "line", "color": "#0000ff", "strokeWidth": 1.8, "clip": true},
   "encoding": {
    "x": {"field": "t", "type": "quantitative", "scale": {"domain": [0, 40], "nice": false, "zero": false}, "axis": {"orient": "bottom", "values": [0, 10, 20, 30, 40], "labelExpr": "['0150','0200','0210','0220','0230'][round(datum.value/10)]", "tickSize": -6, "labelPadding": 16, "title": "Time\u00a0\u00a0(UT)", "titleFontSize": 19, "titleBaseline": "alphabetic", "titleAlign": "center", "titleX": 366.5, "titleY": 45.5}},
    "y": {"field": "bt", "type": "quantitative", "scale": {"domain": [0, 70], "nice": false, "zero": false}, "axis": {"orient": "left", "values": [0, 50], "tickSize": -6, "labelPadding": 13, "title": "|B|\u00a0(nT)", "titleAngle": 270, "titleAlign": "center", "titleBaseline": "alphabetic", "titleX": -36, "titleY": 55}}
   }},
  {"mark": {"type": "line", "opacity": 0},
   "encoding": {
    "x": {"field": "t", "type": "quantitative", "axis": {"orient": "top", "values": [0, 10, 20, 30, 40], "labels": false, "tickSize": -6, "title": null}},
    "y": {"field": "bt", "type": "quantitative", "axis": {"orient": "right", "values": [0, 50], "labels": false, "tickSize": -6, "title": null}}
   }},
  {"mark": {"type": "line", "opacity": 0},
   "encoding": {
    "x": {"field": "t", "type": "quantitative", "axis": {"orient": "bottom", "values": [0,1,2,3,4,5,6,7,8,9,10,11,12,13,14,15,16,17,18,19,20,21,22,23,24,25,26,27,28,29,30,31,32,33,34,35,36,37,38,39,40], "labels": false, "tickSize": -3, "title": "Magnetosheath magnetic field in GSM coordinates", "titleFontSize": 19, "titleBaseline": "alphabetic", "titleAlign": "center", "titleX": 366.5, "titleY": 68.5}},
    "y": {"field": "bt", "type": "quantitative", "axis": null}
   }},
  {"mark": {"type": "line", "opacity": 0},
   "encoding": {
    "x": {"field": "t", "type": "quantitative", "axis": {"orient": "top", "values": [0,1,2,3,4,5,6,7,8,9,10,11,12,13,14,15,16,17,18,19,20,21,22,23,24,25,26,27,28,29,30,31,32,33,34,35,36,37,38,39,40], "labels": false, "tickSize": -3, "title": null}},
    "y": {"field": "bt", "type": "quantitative", "axis": null}
   }}
 ]
}
]
}
